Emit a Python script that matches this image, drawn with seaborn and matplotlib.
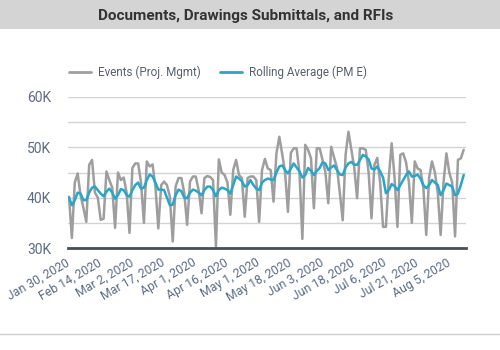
import numpy as np
import pandas as pd
import matplotlib
matplotlib.use("Agg")
import matplotlib.pyplot as plt
from matplotlib.patches import Rectangle
from matplotlib.lines import Line2D
import seaborn as sns

# ---- data (values in thousands) ----
events = [
    40.2, 32.0, 43.0, 44.8, 40.5, 38.0, 35.2, 46.5, 47.5, 41.0,
    40.0, 35.6, 35.8, 45.2, 43.5, 42.0, 34.0, 45.0, 43.5, 44.0,
    41.0, 33.0, 45.9, 46.8, 46.8, 43.0, 35.0, 47.2, 46.2, 46.6,
    42.2, 33.9, 42.5, 43.2, 42.5, 40.2, 31.3, 42.2, 43.9, 43.9,
    41.0, 34.6, 43.2, 44.2, 44.2, 41.5, 36.9, 43.9, 44.3, 44.1,
    43.5, 30.3, 47.6, 45.0, 44.5, 43.0, 36.6, 45.5, 47.5, 44.5,
    43.9, 36.2, 43.9, 44.2, 44.2, 43.5, 35.2, 45.5, 47.7, 45.8,
    45.5, 39.2, 48.8, 52.1, 48.7, 45.0, 37.2, 48.9, 49.8, 49.8,
    45.0, 31.8, 50.5, 49.5, 47.8, 37.9, 49.8, 49.8, 47.5, 45.0,
    38.9, 50.1, 48.0, 46.0, 41.0, 35.5, 48.5, 53.1, 49.5, 46.0,
    39.9, 49.8, 49.8, 49.5, 45.0, 35.9, 46.5, 47.9, 43.0, 34.2,
    34.2, 44.0, 50.8, 44.0, 34.2, 48.5, 48.8, 47.0, 43.0, 35.0,
    47.2, 45.8, 45.5, 42.0, 32.6, 44.0, 47.2, 45.0, 41.0, 32.6,
    43.0, 48.8, 45.0, 43.0, 32.3, 47.5, 47.8, 49.5,
]
rolling = [
    40.0, 38.5, 39.5, 41.0, 40.8, 39.5, 39.5, 41.0, 42.0, 42.2,
    41.5, 40.8, 40.3, 41.2, 41.8, 41.0, 39.8, 40.5, 41.7, 41.5,
    40.5, 40.2, 41.5, 42.5, 43.0, 41.8, 42.0, 43.5, 44.6, 44.2,
    43.0, 41.6, 41.6, 41.5, 40.0, 38.5, 38.6, 40.5, 41.6, 41.3,
    40.0, 39.9, 41.0, 41.6, 41.4, 41.0, 40.5, 41.5, 42.2, 42.2,
    41.5, 40.3, 41.5, 42.0, 41.8, 41.5, 40.8, 42.5, 44.2, 43.8,
    43.3, 42.2, 42.5, 43.5, 42.5, 41.8, 41.5, 43.0, 43.5, 43.8,
    43.6, 43.5, 45.0, 46.2, 46.4, 45.5, 44.8, 45.8, 46.8, 46.0,
    45.2, 44.0, 44.5, 45.9, 45.3, 44.5, 45.3, 45.9, 47.0, 46.8,
    45.5, 46.0, 46.4, 45.5, 44.6, 44.5, 46.0, 46.8, 47.1, 46.6,
    46.5, 47.5, 48.5, 48.2, 47.6, 45.8, 45.6, 46.2, 45.2, 44.0,
    40.9, 41.5, 42.7, 42.3, 41.5, 42.5, 43.5, 44.5, 45.2, 44.2,
    44.3, 44.6, 43.8, 42.5, 41.9, 42.5, 43.5, 43.0, 42.5, 40.5,
    41.5, 42.8, 42.5, 42.2, 40.5, 40.8, 42.5, 44.5,
]
tick_labels = [
    "Jan 30, 2020", "Feb 14, 2020", "Mar 2, 2020", "Mar 17, 2020",
    "Apr 1, 2020", "Apr 16, 2020", "May 1, 2020", "May 18, 2020",
    "Jun 3, 2020", "Jun 18, 2020", "Jul 6, 2020", "Jul 21, 2020",
    "Aug 5, 2020",
]
tick_step = 11
y_ticks = [30, 40, 50, 60]
y_labels = ["30K", "40K", "50K", "60K"]
y_minor = [35, 45, 55]
series_names = ["Events (Proj. Mgmt)", "Rolling Average (PM E)"]
colors = ["#9e9e9e", "#27a6ca"]
title = "Documents, Drawings Submittals, and RFIs"

sns.set_style("white")
plt.rcParams["font.family"] = ["Roboto", "DejaVu Sans"]

n = len(events)
df = pd.DataFrame({
    "idx": np.concatenate([np.arange(n), np.arange(n)]),
    "value": events + rolling,
    "series": [series_names[0]] * n + [series_names[1]] * n,
})

fig = plt.figure(figsize=(5, 3.5), dpi=100)
ax = fig.add_axes([68 / 500, 1 - 248 / 350, (466 - 68) / 500, (248 - 97) / 350])
sns.lineplot(data=df, x="idx", y="value", hue="series", hue_order=series_names,
             palette=colors, linewidth=1.8, ax=ax, legend=False)

ax.set_xlim(-0.35, n - 1 + 0.8)
ax.set_ylim(30, 60)
ax.set_xlabel("")
ax.set_ylabel("")
for s in ["top", "right", "left"]:
    ax.spines[s].set_visible(False)
ax.spines["bottom"].set_color("#3e5059")
ax.spines["bottom"].set_linewidth(2)
ax.spines["bottom"].set_zorder(5)

ax.set_yticks(y_ticks)
ax.set_yticklabels(y_labels, color="#5b6b86", fontsize=10)
ax.set_yticks(y_minor, minor=True)
ax.grid(axis="y", which="both", color="#d3d3d3", linewidth=1)
ax.set_axisbelow(True)
ax.tick_params(axis="y", which="both", length=0, pad=12)

ax.set_xticks(np.arange(0, n, tick_step)[:len(tick_labels)])
ax.set_xticklabels(tick_labels, rotation=30, ha="right", va="center",
                   rotation_mode="anchor", fontsize=8.8, color="#5b6b86")
ax.tick_params(axis="x", length=0, pad=10)

fig.add_artist(Rectangle((0, 1 - 29 / 350), 1, 29 / 350, transform=fig.transFigure,
                         facecolor="#d4d4d4", edgecolor="none", zorder=0))
fig.text(246 / 500, 1 - 16 / 350, title, ha="center", va="center",
         fontsize=11, fontweight="bold", color="#333333")
fig.add_artist(Line2D([0, 1], [1 - 334 / 350] * 2, transform=fig.transFigure,
                      color="#d0d0d0", linewidth=1))

handles = [Line2D([], [], color=c, linewidth=2) for c in colors]
fig.legend(handles, series_names, loc="center", bbox_to_anchor=(218 / 500, 1 - 72 / 350),
           ncol=2, frameon=False, fontsize=8.4, handlelength=1.85, handletextpad=0.6,
           columnspacing=1.7, labelcolor="#555f6e")

fig.savefig("out.png", dpi=100)
